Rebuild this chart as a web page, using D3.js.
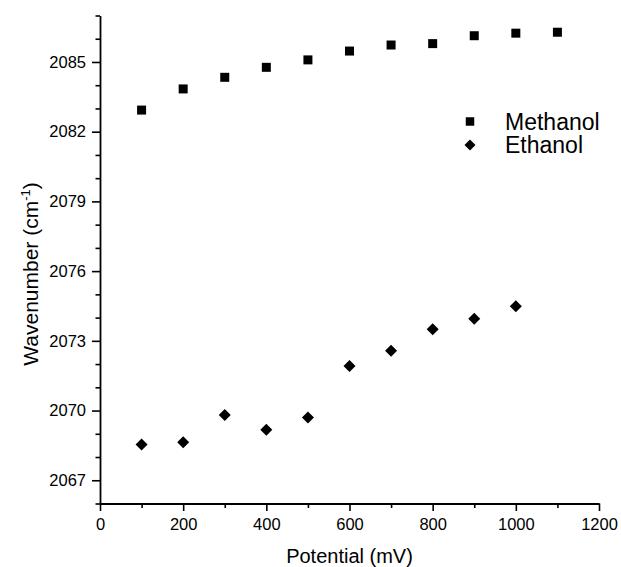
<!DOCTYPE html>
<html>
<head>
<meta charset="utf-8">
<script src="https://cdn.jsdelivr.net/npm/d3@7"></script>
<style>
  html, body { margin: 0; padding: 0; background: #fff; }
  svg { display: block; font-family: "Liberation Sans", Arial, sans-serif; }
  svg text { font-family: "Liberation Sans", Arial, sans-serif; }
</style>
</head>
<body>
<svg id="chart" width="621" height="567"></svg>
<script>
// Applied potential (mV)
const potentialMethanol = [100, 200, 300, 400, 500, 600, 700, 800, 900, 1000, 1100];
const potentialEthanol  = [100, 200, 300, 400, 500, 600, 700, 800, 900, 1000];

// Band position (cm^-1)
const wavenumberMethanol = [2082.93, 2083.84, 2084.34, 2084.77, 2085.09, 2085.47, 2085.73, 2085.79, 2086.13, 2086.24, 2086.28];
const wavenumberEthanol  = [2068.54, 2068.64, 2069.81, 2069.17, 2069.70, 2071.92, 2072.57, 2073.50, 2073.95, 2074.49];

// Axis ticks
const xMajorTicks = [0, 200, 400, 600, 800, 1000, 1200];
const xMinorTicks = [100, 300, 500, 700, 900, 1100];
const yMajorTicks = [2067, 2070, 2073, 2076, 2079, 2082, 2085];
const yMinorTicks = [2066, 2068, 2069, 2071, 2072, 2074, 2075, 2077, 2078, 2080, 2081, 2083, 2084, 2086, 2087];

const seriesNames = ["Methanol", "Ethanol"];

const svg = d3.select("#chart");
const margin = { left: 100, right: 22, top: 15.5, bottom: 63.5 };
const W = 621, H = 567;

const x = d3.scaleLinear().domain([0, 1200]).range([margin.left, W - margin.right]);
const y = d3.scaleLinear().domain([2066, 2087]).range([H - margin.bottom, margin.top]);

// Minor ticks (no labels)
svg.append("g")
  .attr("transform", `translate(0,${y(2066)})`)
  .call(d3.axisBottom(x).tickValues(xMinorTicks).tickSize(4.5).tickFormat(""))
  .call(g => g.select(".domain").remove())
  .selectAll("line").attr("stroke", "#000").attr("stroke-width", 1.6);

svg.append("g")
  .attr("transform", `translate(${x(0)},0)`)
  .call(d3.axisLeft(y).tickValues(yMinorTicks).tickSize(4.5).tickFormat(""))
  .call(g => g.select(".domain").remove())
  .selectAll("line").attr("stroke", "#000").attr("stroke-width", 1.6);

// Major axes
const xAxis = svg.append("g")
  .attr("transform", `translate(0,${y(2066)})`)
  .call(d3.axisBottom(x).tickValues(xMajorTicks).tickSize(7.5).tickSizeOuter(0).tickPadding(7).tickFormat(d3.format("d")));
xAxis.select(".domain").attr("stroke", "#000").attr("stroke-width", 1.8);
xAxis.selectAll("line").attr("stroke", "#000").attr("stroke-width", 1.6);
xAxis.selectAll("text").style("font-size", "16.5px").attr("fill", "#000");

const yAxis = svg.append("g")
  .attr("transform", `translate(${x(0)},0)`)
  .call(d3.axisLeft(y).tickValues(yMajorTicks).tickSize(8).tickSizeOuter(0).tickPadding(6).tickFormat(d3.format("d")));
yAxis.select(".domain").attr("stroke", "#000").attr("stroke-width", 1.8);
yAxis.selectAll("line").attr("stroke", "#000").attr("stroke-width", 1.6);
yAxis.selectAll("text").style("font-size", "16.5px").attr("fill", "#000");

// Axis titles
svg.append("text")
  .attr("x", (x(0) + x(1200)) / 2).attr("y", 563)
  .attr("text-anchor", "middle").style("font-size", "20px").attr("fill", "#000")
  .text("Potential (mV)");

const yTitle = svg.append("text")
  .attr("transform", `translate(38,274) rotate(-90)`)
  .attr("text-anchor", "middle").style("font-size", "21px").attr("fill", "#000");
yTitle.append("tspan").text("Wavenumber (cm");
yTitle.append("tspan").attr("dy", -8).style("font-size", "13px").text("-1");
yTitle.append("tspan").attr("dy", 8).text(")");

// Marker shapes
const squareSym = d3.symbol().type(d3.symbolSquare).size(81);
const diamondSym = d3.symbol().type(d3.symbolSquare).size(72);

const methanol = potentialMethanol.map((p, i) => ({ p, w: wavenumberMethanol[i] }));
const ethanol = potentialEthanol.map((p, i) => ({ p, w: wavenumberEthanol[i] }));

svg.append("g").selectAll("path").data(methanol).join("path")
  .attr("d", squareSym())
  .attr("transform", d => `translate(${x(d.p)},${y(d.w)})`)
  .attr("fill", "#000");

svg.append("g").selectAll("path").data(ethanol).join("path")
  .attr("d", diamondSym())
  .attr("transform", d => `translate(${x(d.p)},${y(d.w)}) rotate(45)`)
  .attr("fill", "#000");

// Legend
const legend = svg.append("g");
legend.append("path").attr("d", d3.symbol().type(d3.symbolSquare).size(72)())
  .attr("transform", "translate(470,121.5)").attr("fill", "#000");
legend.append("path").attr("d", d3.symbol().type(d3.symbolSquare).size(60)())
  .attr("transform", "translate(470,145) rotate(45)").attr("fill", "#000");
legend.append("text").attr("x", 505).attr("y", 129.5).style("font-size", "23px").attr("fill", "#000").text(seriesNames[0]);
legend.append("text").attr("x", 505).attr("y", 153).style("font-size", "23px").attr("fill", "#000").text(seriesNames[1]);
</script>
</body>
</html>
